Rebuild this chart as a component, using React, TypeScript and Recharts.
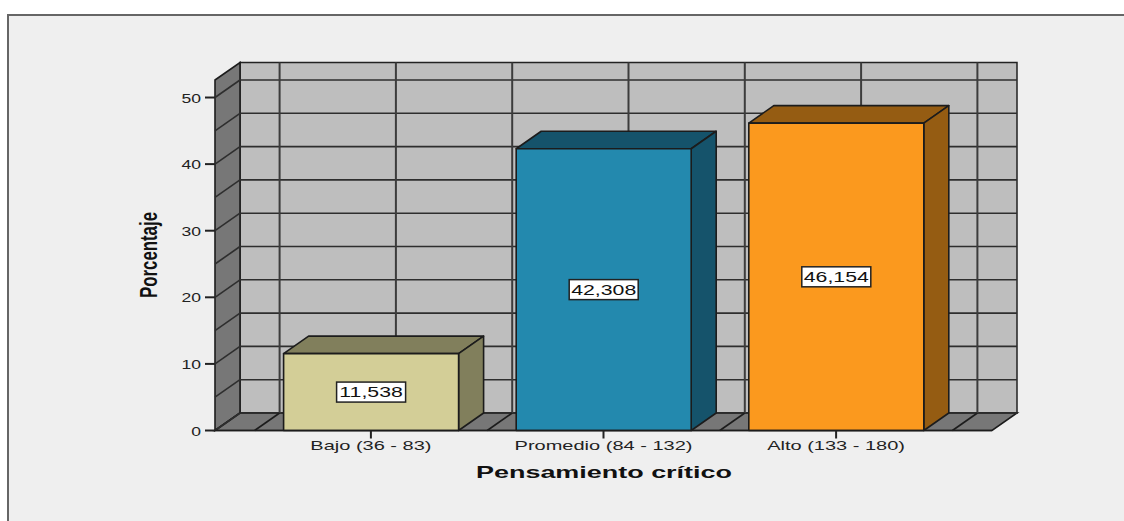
import React from 'react';
import { BarChart, Bar, XAxis, YAxis, LabelList, usePlotArea } from 'recharts';

const categories = ['Bajo (36 - 83)', 'Promedio (84 - 132)', 'Alto (133 - 180)'];
const percentages = [11.538, 42.308, 46.154];
const yTicks = [0, 10, 20, 30, 40, 50];
const yGridValues = [0, 5, 10, 15, 20, 25, 30, 35, 40, 45, 50];
const yMax = 52.63;

const frontColors = ['#D3CE97', '#2389AE', '#FB991E'];
const shadeColors = ['#817F5C', '#15536B', '#955C12'];

const chartData = categories.map((name, i) => ({ name, value: percentages[i] }));

const DEPTH_X = 25;
const DEPTH_Y = 17.5;
const X_PADDING = 39.6;
const TEXT_COLOR = '#222';
const FONT = '"Liberation Sans", Arial, sans-serif';

// 3D walls and floor behind the bars
function Walls() {
  const plot = usePlotArea();
  if (!plot) return null;
  const { x, y, width, height } = plot;
  const right = x + width;
  const bottom = y + height;
  const yOf = (v: number) => bottom - (v / yMax) * height;
  const step = (width - X_PADDING * 2) / categories.length / 2;
  const verticals = Array.from({ length: categories.length * 2 + 1 }, (_, i) => x + X_PADDING + i * step);

  return (
    <g>
      <polygon
        points={`${x + DEPTH_X},${y - DEPTH_Y} ${right + DEPTH_X},${y - DEPTH_Y} ${right + DEPTH_X},${bottom - DEPTH_Y} ${x + DEPTH_X},${bottom - DEPTH_Y}`}
        fill="#BEBEBE"
        stroke="#222"
        strokeWidth={1.5}
      />
      <polygon
        points={`${x},${y} ${x + DEPTH_X},${y - DEPTH_Y} ${x + DEPTH_X},${bottom - DEPTH_Y} ${x},${bottom}`}
        fill="#777777"
        stroke="#1c1c1c"
        strokeWidth={1.6}
      />
      <polygon
        points={`${x},${bottom} ${x + DEPTH_X},${bottom - DEPTH_Y} ${right + DEPTH_X},${bottom - DEPTH_Y} ${right},${bottom}`}
        fill="#777777"
        stroke="#1c1c1c"
        strokeWidth={1.6}
      />
      {yGridValues.map((v) => (
        <g key={v} stroke="#2e2e2e" strokeWidth={1.6}>
          <line x1={x + DEPTH_X} x2={right + DEPTH_X} y1={yOf(v) - DEPTH_Y} y2={yOf(v) - DEPTH_Y} />
          <line x1={x} x2={x + DEPTH_X} y1={yOf(v)} y2={yOf(v) - DEPTH_Y} />
        </g>
      ))}
      {verticals.map((vx) => (
        <g key={vx} stroke="#3c3c3c" strokeWidth={2}>
          <line x1={vx + DEPTH_X} x2={vx + DEPTH_X} y1={y - DEPTH_Y} y2={bottom - DEPTH_Y} />
          <line x1={vx} x2={vx + DEPTH_X} y1={bottom} y2={bottom - DEPTH_Y} strokeWidth={1.6} stroke="#1c1c1c" />
        </g>
      ))}
    </g>
  );
}

function Bar3D(props: any) {
  const { x, y, width, height, index } = props;
  const r = x + width;
  const b = y + height;
  const shade = shadeColors[index];
  return (
    <g stroke="#1c1c1c" strokeWidth={1.6} strokeLinejoin="round">
      <polygon
        points={`${x},${y} ${x + DEPTH_X},${y - DEPTH_Y} ${r + DEPTH_X},${y - DEPTH_Y} ${r},${y}`}
        fill={shade}
      />
      <polygon
        points={`${r},${y} ${r + DEPTH_X},${y - DEPTH_Y} ${r + DEPTH_X},${b - DEPTH_Y} ${r},${b}`}
        fill={shade}
      />
      <rect x={x} y={y} width={width} height={height} fill={frontColors[index]} />
    </g>
  );
}

function ValueBox(props: any) {
  const { x, y, width, height, value } = props;
  const cx = x + width / 2;
  const cy = y + height / 2;
  return (
    <g>
      <rect x={cx - 34.5} y={cy - 10} width={69} height={20} fill="#fff" stroke="#222" strokeWidth={1.5} />
      <text
        transform={`translate(${cx},${cy + 5}) scale(1.52,1)`}
        textAnchor="middle"
        fontSize={14}
        fontFamily={FONT}
        fill="#111"
      >
        {String(value).replace('.', ',')}
      </text>
    </g>
  );
}

function XTick({ x, y, payload }: any) {
  return (
    <text
      transform={`translate(${x},${y + 9}) scale(1.54,1)`}
      textAnchor="middle"
      fontSize={13}
      fontFamily={FONT}
      fill={TEXT_COLOR}
    >
      {payload.value}
    </text>
  );
}

function YTick({ x, y, payload }: any) {
  return (
    <text
      transform={`translate(${x - 2},${y + 5}) scale(1.35,1)`}
      textAnchor="end"
      fontSize={13}
      fontFamily={FONT}
      fill={TEXT_COLOR}
    >
      {payload.value}
    </text>
  );
}

export default function App() {
  return (
    <div style={{ position: 'absolute', left: 0, top: 0, width: 1124, height: 521, background: '#fff', overflow: 'hidden' }}>
      <div
        style={{
          position: 'absolute',
          left: 7,
          top: 14,
          width: 1117,
          height: 507,
          background: '#EFEFEF',
          borderTop: '2px solid #666',
          borderLeft: '2px solid #666',
          boxSizing: 'border-box',
        }}
      />
      <div style={{ position: 'absolute', left: 0, top: 0 }}>
        <BarChart
          width={1124}
          height={521}
          data={chartData}
          barSize={175}
          margin={{ top: 80, right: 132, bottom: 60.5, left: 155 }}
        >
          <Walls />
          <XAxis
            dataKey="name"
            height={30}
            padding={{ left: X_PADDING, right: X_PADDING }}
            axisLine={{ stroke: '#1c1c1c', strokeWidth: 1.6 }}
            tickLine={{ stroke: '#222', strokeWidth: 2 }}
            tickSize={8}
            tick={<XTick />}
            interval={0}
          />
          <YAxis
            width={60}
            domain={[0, yMax]}
            ticks={yTicks}
            axisLine={false}
            tickLine={{ stroke: '#222', strokeWidth: 2 }}
            tickSize={10}
            tick={<YTick />}
          />
          <Bar dataKey="value" shape={<Bar3D />} isAnimationActive={false}>
            <LabelList dataKey="value" content={<ValueBox />} />
          </Bar>
          <text
            x={604}
            y={478}
            textAnchor="middle"
            fontSize={17}
            fontWeight="bold"
            fontFamily={FONT}
            fill="#111"
            textLength={256}
            lengthAdjust="spacingAndGlyphs"
          >
            Pensamiento crítico
          </text>
          <text
            transform="translate(157,255) rotate(-90)"
            textAnchor="middle"
            fontSize={24}
            fontWeight="bold"
            fontFamily={FONT}
            fill="#111"
            textLength={86}
            lengthAdjust="spacingAndGlyphs"
          >
            Porcentaje
          </text>
        </BarChart>
      </div>
    </div>
  );
}
